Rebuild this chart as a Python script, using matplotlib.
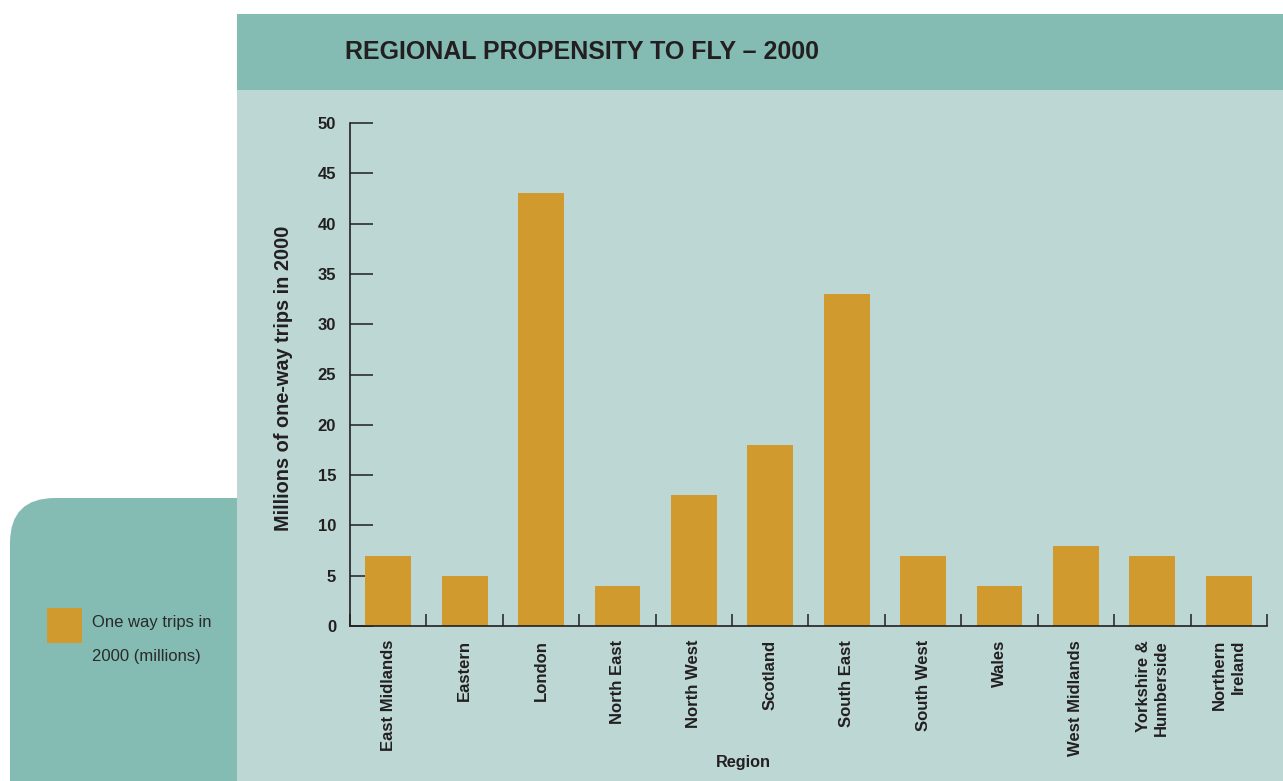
import matplotlib
matplotlib.use("Agg")
import matplotlib.pyplot as plt
from matplotlib.patches import Rectangle, FancyBboxPatch
from matplotlib.transforms import IdentityTransform
from matplotlib.ticker import FixedLocator

# ---- data ----
regions = ["East Midlands", "Eastern", "London", "North East", "North West",
           "Scotland", "South East", "South West", "Wales", "West Midlands",
           "Yorkshire &\nHumberside", "Northern\nIreland"]
trips_millions = [7, 5, 43, 4, 13, 18, 33, 7, 4, 8, 7, 5]
y_ticks = [0, 5, 10, 15, 20, 25, 30, 35, 40, 45, 50]

title = "REGIONAL PROPENSITY TO FLY \u2013 2000"
y_label = "Millions of one-way trips in 2000"
x_label = "Region"
legend_lines = ["One way trips in", "2000 (millions)"]

# ---- style ----
plt.rcParams['font.family'] = ['Liberation Sans', 'DejaVu Sans']
W, H = 1283, 781
DPI = 100
HEADER = "#84bbb3"
PANEL = "#bcd7d4"
BAR = "#d09a2e"
INK = "#231f20"

fig = plt.figure(figsize=(W / DPI, H / DPI), dpi=DPI)
fig.patch.set_facecolor("white")

def px(x, y_top, w, h):
    """convert top-left pixel box to display coords (origin bottom-left)"""
    return x, H - y_top - h, w, h

# legend rounded box (behind main panel)
x0, y0, w0, h0 = px(10, 498, 320, 330)
fig.patches.append(FancyBboxPatch((x0, y0), w0, h0,
                                  boxstyle="round,pad=0,rounding_size=45",
                                  transform=IdentityTransform(),
                                  facecolor=HEADER, edgecolor="none", zorder=-3))
# main panel
x0, y0, w0, h0 = px(237, 90, W - 237, H - 90)
fig.patches.append(Rectangle((x0, y0), w0, h0, transform=IdentityTransform(),
                             facecolor=PANEL, edgecolor="none", zorder=-2))
# header band
x0, y0, w0, h0 = px(237, 14, W - 237, 76)
fig.patches.append(Rectangle((x0, y0), w0, h0, transform=IdentityTransform(),
                             facecolor=HEADER, edgecolor="none", zorder=-2))
# legend swatch
x0, y0, w0, h0 = px(47, 608, 35, 35)
fig.patches.append(Rectangle((x0, y0), w0, h0, transform=IdentityTransform(),
                             facecolor=BAR, edgecolor="none", zorder=-1))
fig.text(92 / W, 1 - 623 / H, legend_lines[0], ha="left", va="center",
         fontsize=12, color="#2a2a2a")
fig.text(92 / W, 1 - 656 / H, legend_lines[1], ha="left", va="center",
         fontsize=12, color="#2a2a2a")

fig.text(345 / W, 1 - 52 / H, title, ha="left", va="center",
         fontsize=18, fontweight="bold", color=INK)

# ---- axes ----
ax_l, ax_r, ax_t, ax_b = 350, 1267, 123, 626
ax = fig.add_axes([ax_l / W, 1 - ax_b / H, (ax_r - ax_l) / W, (ax_b - ax_t) / H])
ax.set_facecolor("none")
ax.set_zorder(5)

xpos = list(range(len(regions)))
ax.bar(xpos, trips_millions, width=0.6, color=BAR, zorder=2)

ax.set_xlim(-0.5, len(regions) - 0.5)
ax.set_ylim(0, 50)
ax.set_yticks(y_ticks)
ax.set_yticklabels([str(t) for t in y_ticks], fontweight="bold", fontsize=12, color=INK)

ax.set_xticks(xpos)
ax.set_xticklabels(regions, rotation=90, fontweight="bold", fontsize=12, color=INK,
                   ha="center", va="top", multialignment="right", linespacing=1.3)
ax.xaxis.set_minor_locator(FixedLocator([i - 0.5 for i in range(len(regions) + 1)]))

ax.tick_params(axis="x", which="major", length=0, pad=10)
ax.tick_params(axis="x", which="minor", direction="in", length=8.6, width=1.1, color=INK)
ax.tick_params(axis="y", which="major", direction="in", length=16.5, width=1.1,
               color=INK, pad=10)

for s in ["top", "right"]:
    ax.spines[s].set_visible(False)
for s in ["left", "bottom"]:
    ax.spines[s].set_color(INK)
    ax.spines[s].set_linewidth(1.2)

ax.set_ylabel(y_label, fontsize=14.3, fontweight="bold", color=INK)
ax.yaxis.set_label_coords((284 - ax_l) / (ax_r - ax_l), 0.5 + (374.5 - 378) / (ax_b - ax_t))
ax.yaxis.label.set_verticalalignment("center")

ax.set_xlabel(x_label, fontsize=11.7, fontweight="bold", color=INK)
ax.xaxis.set_label_coords((743 - ax_l) / (ax_r - ax_l), (ax_b - 763) / (ax_b - ax_t))
ax.xaxis.label.set_verticalalignment("center")

fig.savefig("out.png", dpi=DPI)
